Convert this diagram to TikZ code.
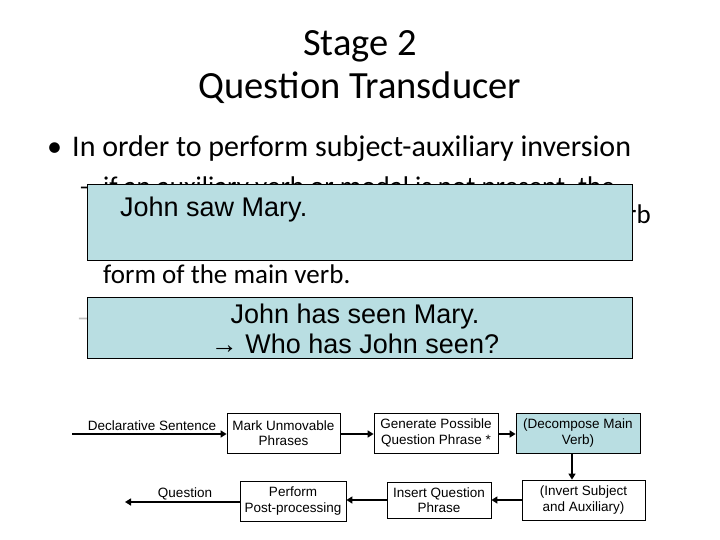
\documentclass[tikz,border=0pt]{standalone}
\usepackage{fontspec}
\setmainfont{Carlito}
\newfontfamily\arialfont{Liberation Sans}
\usetikzlibrary{arrows.meta}
\definecolor{boxblue}{RGB}{185,222,226}
\tikzset{
  procbox/.style={draw, line width=0.8pt, fill=white, align=center, inner sep=1pt,
    font=\arialfont\fontsize{13.5}{15.5}\selectfont},
  flowarrow/.style={line width=2pt, -{Triangle[length=6pt,width=7pt]}},
  examplebox/.style={draw, line width=1pt, fill=boxblue},
  bodytext/.style={anchor=base west, inner sep=0pt, font=\fontsize{27}{29}\selectfont}
}
\begin{document}
\begin{tikzpicture}[x=1pt,y=-1pt]
    \useasboundingbox (0,0) rectangle (720,540);
    \node[align=center, font=\fontsize{38.5}{43}\selectfont] (title) at (360,67) {Stage 2\\Question Transducer};
    \node[bodytext, font=\fontsize{30}{34}\selectfont] (bullet) at (47,157) {•};
    \node[bodytext, font=\fontsize{30}{34}\selectfont] (point) at (72,157) {In order to perform subject-auxiliary inversion};
    % sub-point, mostly hidden under the example boxes
    \node[bodytext] (dashA) at (79,196) {–};
    \node[bodytext] (lineA) at (103,196) {if an auxiliary verb or modal is not present, the};
    \node[bodytext, anchor=base east] (lineB) at (651,224) {question transducer decomposes the main verb};
    \node[bodytext] (lineC) at (103,256) {into the appropriate form of \emph{do} and the base};
    \node[bodytext] (lineD) at (103,283) {form of the main verb.};
    \node[bodytext, text=black!25] (dashB) at (77,326) {–};
    \draw[examplebox] (87,185) rectangle (632,260);
    \node[bodytext, font=\arialfont\fontsize{27}{30}\selectfont] (exA) at (120,216) {John saw Mary.};
    \draw[examplebox] (87,297) rectangle (632,358);
    \node[align=center, font=\arialfont\fontsize{27}{30}\selectfont] (exB) at (355,329) {John has seen Mary.\\→ Who has John seen?};
    % flow of the transducer
    \coordinate (decin) at (72,434);
    \coordinate (qout) at (125,502);
    \node[procbox, minimum width=113pt, minimum height=40pt] (mark) at (283.5,433) {Mark Unmovable\\Phrases};
    \node[procbox, minimum width=124pt, minimum height=40pt] (gen) at (436,433) {Generate Possible\\Question Phrase *};
    \node[procbox, fill=boxblue, minimum width=124pt, minimum height=40pt] (decomp) at (578,433) {(Decompose Main\\Verb)};
    \node[procbox, minimum width=123pt, minimum height=40pt] (invert) at (583.5,500) {(Invert Subject\\and Auxiliary)};
    \node[procbox, minimum width=104pt, minimum height=36pt] (insert) at (439,500) {Insert Question\\Phrase};
    \node[procbox, minimum width=106pt, minimum height=40pt] (post) at (293,501) {Perform\\Post-processing};
    \node[font=\arialfont\fontsize{13.5}{15.5}\selectfont] (declabel) at (152,426) {Declarative Sentence};
    \node[font=\arialfont\fontsize{13.5}{15.5}\selectfont] (qlabel) at (185,494) {Question};
    \draw[flowarrow] (decin) -- (mark.west |- decin);
    \draw[flowarrow] (mark.east |- decin) -- (gen.west |- decin);
    \draw[flowarrow] (gen.east |- decin) -- (decomp.west |- decin);
    \draw[flowarrow] (decomp.south -| 572,0) -- (invert.north -| 572,0);
    \draw[flowarrow] (invert.west) -- (insert.east);
    \draw[flowarrow] (insert.west) -- (post.east |- insert.west);
    \draw[flowarrow] (post.west |- qout) -- (qout);
\end{tikzpicture}
\end{document}
